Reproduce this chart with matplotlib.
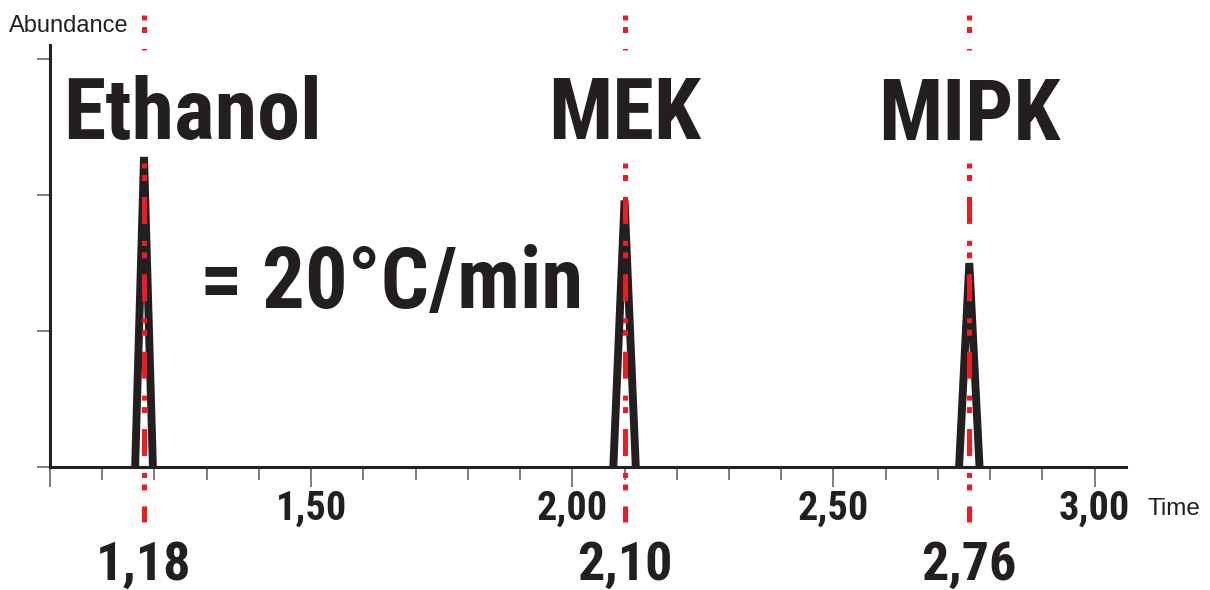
import matplotlib
matplotlib.use("Agg")
import matplotlib.pyplot as plt
import matplotlib.transforms as mtransforms

# peak data
compounds = ["Ethanol", "MEK", "MIPK"]
peak_times = [1.18, 2.10, 2.76]
peak_heights = [2.28, 1.96, 1.50]
peak_halfwidths = [0.017, 0.0215, 0.0196]
time_labels = ["1,18", "2,10", "2,76"]

major_ticks = [1.0, 1.5, 2.0, 2.5, 3.0]
major_labels = ["", "1,50", "2,00", "2,50", "3,00"]
minor_ticks = [1.1, 1.2, 1.3, 1.4, 1.6, 1.7, 1.8, 1.9, 2.1, 2.2, 2.3, 2.4, 2.6, 2.7, 2.8, 2.9]
y_ticks = [0, 1, 2, 3]
rate_text = "= 20°C/min"

ink = "#231f20"
red = "#ed1c24"
grey = "#58595b"
narrow = ["Roboto Condensed", "DejaVu Sans"]

plt.rcParams["lines.scale_dashes"] = False

fig = plt.figure(figsize=(12.1, 5.9), dpi=100)
ax = fig.add_axes([50/1210, 1 - 467/590, (1126 - 50)/1210, (467 - 45)/590])
ax.set_xlim(1.0, 3.06)
ax.set_ylim(0, 3.103)

for s in ["top", "right"]:
    ax.spines[s].set_visible(False)
for s in ["left", "bottom"]:
    ax.spines[s].set_linewidth(2.2)
    ax.spines[s].set_color(ink)

ax.set_xticks(major_ticks)
ax.set_xticklabels(major_labels, fontfamily=narrow, fontweight="bold", fontsize=29, color=ink)
ax.set_xticks(minor_ticks, minor=True)
ax.tick_params(axis="x", which="major", direction="out", length=14.4, width=1.1, color=grey, pad=2)
ax.tick_params(axis="x", which="minor", direction="out", length=9.4, width=1.1, color=grey)
ax.set_yticks(y_ticks)
ax.set_yticklabels([])
ax.tick_params(axis="y", direction="out", length=9.4, width=1.1, color=grey)

# black triangular peaks
for t, h, w in zip(peak_times, peak_heights, peak_halfwidths):
    ax.plot([t - w, t, t + w], [0, h, 0], color=ink, lw=5.7,
            solid_joinstyle="bevel", solid_capstyle="butt", zorder=4, clip_on=False)

# red dash-dot-dot retention time markers
trans = mtransforms.blended_transform_factory(ax.transData, ax.transAxes)
dash = (0, (3.6, 4.7, 4.3, 11.5, 19.4, 12.2))
for t in peak_times:
    for y0, y1 in [(1.0711, 0.9882), (0.7204, -0.1303)]:
        ax.plot([t, t], [y0, y1], transform=trans, color=red, lw=3.6,
                linestyle=dash, dash_capstyle="butt", zorder=5, clip_on=False)

# compound names
ax.text(1.025, 2.41, compounds[0], fontfamily=narrow, fontweight="bold",
        fontsize=62, color=ink, ha="left", va="baseline")
for name, t in zip(compounds[1:], peak_times[1:]):
    ax.text(t, 2.41, name, fontfamily=narrow, fontweight="bold",
            fontsize=61, color=ink, ha="center", va="baseline")

ax.text(1.287, 1.169, rate_text, fontfamily=narrow, fontweight="bold",
        fontsize=61, color=ink, ha="left", va="baseline")

for lab, t in zip(time_labels, peak_times):
    ax.text(t, -0.2678, lab, transform=trans, fontfamily=narrow, fontweight="bold",
            fontsize=39, color=ink, ha="center", va="baseline", clip_on=False)

fig.text(9/1210, 1 - 32/590, "Abundance", fontfamily="Liberation Sans",
         fontsize=17, color=ink, ha="left", va="baseline")
fig.text(1147/1210, 1 - 515/590, "Time", fontfamily="Liberation Sans",
         fontsize=17.5, color=ink, ha="left", va="baseline")

fig.savefig("out.png", dpi=100)
